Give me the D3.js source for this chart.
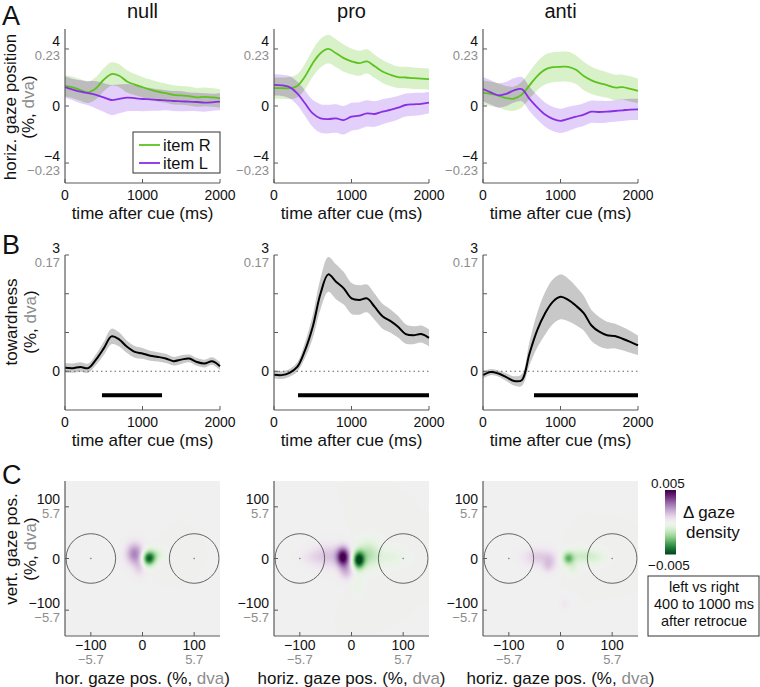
<!DOCTYPE html>
<html><head><meta charset="utf-8">
<script src="https://cdn.jsdelivr.net/npm/d3@7"></script>
<style>body{margin:0;background:#fff} text{font-family:"Liberation Sans",Arial,sans-serif;fill:#111}</style>
</head><body>
<svg id="c" width="760" height="687"></svg>
<script>
// ---------- DATA ----------
const conditions = ["null", "pro", "anti"];
const time = [0,100,200,300,400,500,600,700,800,900,1000,1100,1200,1300,1400,1500,1600,1700,1800,1900,2000];
const timeTicks = [0, 1000, 2000];

// Row A: horizontal gaze position (%), item R / item L, with SEM
const nullR    = [1.41,1.30,1.12,0.96,1.25,1.84,2.24,2.12,1.72,1.50,1.32,1.15,1.00,0.90,0.78,0.74,0.70,0.60,0.64,0.60,0.54];
const nullRsem = [0.75,0.75,0.75,0.75,0.78,0.80,0.82,0.80,0.78,0.75,0.72,0.70,0.70,0.68,0.68,0.66,0.66,0.65,0.65,0.65,0.65];
const nullL    = [1.32,1.15,1.00,0.90,0.78,0.60,0.42,0.50,0.59,0.55,0.49,0.47,0.42,0.40,0.35,0.33,0.30,0.28,0.24,0.26,0.30];
const nullLsem = [0.75,0.75,0.80,0.85,0.95,1.00,1.05,1.00,0.95,0.90,0.85,0.80,0.75,0.70,0.70,0.70,0.65,0.65,0.65,0.60,0.60];
const proR     = [1.25,1.25,1.25,1.41,2.07,3.00,3.70,4.00,3.70,3.36,3.13,3.00,3.13,2.78,2.42,2.19,2.02,2.00,1.95,1.92,1.88];
const proRsem  = [0.75,0.75,0.78,0.82,0.90,0.95,1.00,1.00,0.98,0.95,0.90,0.88,0.85,0.82,0.80,0.78,0.75,0.75,0.75,0.75,0.75];
const proL     = [1.48,1.45,1.32,0.89,0.19,-0.52,-0.87,-0.92,-0.87,-0.99,-0.75,-0.68,-0.52,-0.56,-0.40,-0.28,-0.12,0.07,0.12,0.15,0.24];
const proLsem  = [0.75,0.75,0.78,0.82,0.90,0.95,1.00,1.00,1.00,1.00,0.98,0.95,0.92,0.90,0.88,0.85,0.82,0.80,0.80,0.78,0.75];
const antiR    = [0.94,0.85,0.72,0.55,0.52,0.80,1.45,2.10,2.55,2.72,2.75,2.75,2.54,2.10,1.80,1.60,1.47,1.30,1.32,1.20,1.06];
const antiRsem = [0.85,0.85,0.85,0.85,0.85,0.90,0.95,1.00,1.05,1.05,1.05,1.05,1.00,1.00,0.95,0.92,0.90,0.90,0.88,0.88,0.85];
const antiL    = [1.18,0.96,0.75,0.85,1.10,1.18,0.50,-0.10,-0.60,-0.90,-1.04,-0.90,-0.75,-0.60,-0.40,-0.42,-0.40,-0.35,-0.30,-0.25,-0.24];
const antiLsem = [0.85,0.85,0.85,0.85,0.85,0.85,0.85,0.85,0.85,0.85,0.85,0.85,0.80,0.80,0.78,0.78,0.75,0.75,0.75,0.75,0.75];
const posTicks = [-4, 0, 4];
const posTickDva = ["−0.23", "", "0.23"];
const legendLabels = ["item R", "item L"];

// Row B: towardness (%), with SEM, and significant clusters (ms)
const nullTow    = [0.09,0.08,0.11,0.08,0.30,0.59,0.90,0.82,0.63,0.50,0.46,0.40,0.37,0.33,0.26,0.30,0.33,0.24,0.20,0.26,0.13];
const nullTowSem = [0.12,0.12,0.12,0.12,0.14,0.17,0.20,0.18,0.16,0.15,0.14,0.13,0.12,0.12,0.11,0.11,0.10,0.10,0.10,0.10,0.10];
const proTow     = [-0.09,-0.10,-0.04,0.11,0.54,1.15,2.00,2.50,2.31,2.14,1.88,1.84,1.88,1.66,1.42,1.30,1.15,0.96,0.93,0.96,0.86];
const proTowSem  = [0.10,0.10,0.10,0.12,0.20,0.30,0.40,0.45,0.45,0.42,0.40,0.38,0.36,0.34,0.32,0.30,0.28,0.25,0.23,0.22,0.22];
const antiTow    = [-0.10,-0.02,-0.06,-0.15,-0.25,-0.23,0.46,1.06,1.49,1.79,1.92,1.84,1.69,1.50,1.18,1.02,0.93,0.91,0.84,0.76,0.67];
const antiTowSem = [0.08,0.08,0.08,0.10,0.12,0.15,0.30,0.45,0.55,0.58,0.58,0.55,0.50,0.45,0.40,0.38,0.35,0.32,0.30,0.28,0.25];
const sigClusters = [[477, 1252], [310, 2000], [658, 2000]];
const towTicks = [0, 1, 2, 3];

// Row C: gaze density difference blobs [x %, y %, sdX, sdY, amplitude]
const densNull = [[-15,9,12,15,0.0026],[-6,-18,8,12,0.0009],[12,0,9,10,-0.0044],[26,8,12,9,-0.0009]];
const densPro  = [[-16,3,9,13,0.0048],[-45,5,22,16,0.0013],[-80,2,15,10,0.0004],[-10,-25,10,12,0.0014],
                  [14,-3,8,12,-0.0050],[33,8,15,18,-0.0016],[75,3,20,12,-0.0006],[12,-50,8,14,-0.0004]];
const densAnti = [[-45,3,20,12,0.0011],[-20,-5,10,12,0.0009],[-25,-18,8,8,0.0006],[8,-88,6,8,0.0004],
                  [15,0,8,9,-0.0026],[40,5,18,10,-0.0011],[70,3,15,10,-0.0006],[25,-20,8,10,-0.0006]];
const gazeTicks = [-100, 0, 100];
const gazeTickDva = ["−5.7", "", "5.7"];
const itemCentres = [-100, 100];
const itemRadius = 48;
const densityRange = [-0.005, 0.005];
const boxLines = ["left vs right", "400 to 1000 ms", "after retrocue"];

// ---------- LAYOUT ----------
const svg = d3.select("#c");
const lefts = [65, 274, 483], W = 155;
const axisColor = "#5a5a5a", dvaColor = "#8c8c8c";
const greenLine = "#5cc21e", purpleLine = "#8a2ee6";
const greenBand = "#d8f1c8", purpleBand = "#e2d0fa", overlapBand = "#bcbcbc";
const fmt = v => v < 0 ? "−" + Math.abs(v) : String(v);
const labelSize = 17, tickSize = 14, dvaSize = 13;

const posData = [[nullR,nullRsem,nullL,nullLsem],[proR,proRsem,proL,proLsem],[antiR,antiRsem,antiL,antiLsem]];
const towData = [[nullTow,nullTowSem],[proTow,proTowSem],[antiTow,antiTowSem]];
const densData = [densNull, densPro, densAnti];

function yLabel(x, y, main) {
  const g = svg.append("g");
  g.append("text").attr("transform", `translate(${x},${y}) rotate(-90)`).attr("text-anchor","middle")
    .attr("font-size", labelSize).text(main);
  const t = g.append("text").attr("transform", `translate(${x+18.5},${y}) rotate(-90)`).attr("text-anchor","middle")
    .attr("font-size", labelSize);
  t.append("tspan").text("(%, ");
  t.append("tspan").style("fill", dvaColor).text("dva");
  t.append("tspan").text(")");
}
function drawAxes(g, x, y, xt, yt) {
  const [x0,x1] = x.range(), [y0,y1] = y.range();
  g.append("line").attr("x1",x0).attr("x2",x0).attr("y1",y0).attr("y2",y1).attr("stroke",axisColor).attr("stroke-width",1.2);
  g.append("line").attr("x1",x0).attr("x2",x1).attr("y1",y0).attr("y2",y0).attr("stroke",axisColor).attr("stroke-width",1.2);
  g.selectAll(null).data(xt).join("line").attr("x1",d=>x(d)).attr("x2",d=>x(d)).attr("y1",y0).attr("y2",y0-4).attr("stroke",axisColor);
  g.selectAll(null).data(yt).join("line").attr("y1",d=>y(d)).attr("y2",d=>y(d)).attr("x1",x0).attr("x2",x0+4).attr("stroke",axisColor);
}
function yTickLabels(g, x0, y, ticks, dva) {
  ticks.forEach((v, i) => {
    if (dva[i] === "") {
      g.append("text").attr("x", x0-5).attr("y", y(v)+5).attr("text-anchor","end").attr("font-size",tickSize).text(fmt(v));
    } else {
      g.append("text").attr("x", x0-5).attr("y", y(v)-2.5).attr("text-anchor","end").attr("font-size",tickSize).text(fmt(v));
      g.append("text").attr("x", x0-5).attr("y", y(v)+11.5).attr("text-anchor","end").attr("font-size",dvaSize).style("fill",dvaColor).text(dva[i]);
    }
  });
}

// panel letters
[["A",24.5],["B",254],["C",484]].forEach(([l,yb]) =>
  svg.append("text").attr("x",2).attr("y",yb).attr("font-size",27).text(l));

// ---------- ROW A ----------
const yA = d3.scaleLinear().domain([-5.4, 5.4]).range([183, 29]);
yLabel(15.5, 107, "horiz. gaze position");
conditions.forEach((c, i) => {
  const L = lefts[i];
  const x = d3.scaleLinear().domain([0, 2000]).range([L, L+W]);
  const g = svg.append("g");
  const [R, Rs, Lm, Ls] = posData[i];
  const curve = d3.curveCatmullRom.alpha(0.5);
  const band = (m, s) => d3.area().curve(curve).x((d,j)=>x(time[j])).y0((d,j)=>yA(m[j]-s[j])).y1((d,j)=>yA(m[j]+s[j]))(time);
  const line = m => d3.line().curve(curve).x((d,j)=>x(time[j])).y((d,j)=>yA(m[j]))(time);
  const cid = "clipG" + i;
  svg.append("clipPath").attr("id", cid).append("path").attr("d", band(R, Rs));
  g.append("path").attr("d", band(R, Rs)).attr("fill", greenBand);
  g.append("path").attr("d", band(Lm, Ls)).attr("fill", purpleBand);
  g.append("path").attr("d", band(Lm, Ls)).attr("fill", overlapBand).attr("clip-path", `url(#${cid})`);
  g.append("path").attr("d", line(R)).attr("fill","none").attr("stroke", greenLine).attr("stroke-width", 1.8);
  g.append("path").attr("d", line(Lm)).attr("fill","none").attr("stroke", purpleLine).attr("stroke-width", 1.8);
  drawAxes(g, x, yA, timeTicks, posTicks);
  yTickLabels(g, L, yA, posTicks, posTickDva);
  timeTicks.forEach(v => g.append("text").attr("x", x(v)).attr("y", 200).attr("text-anchor","middle").attr("font-size",tickSize).text(v));
  g.append("text").attr("x", L+W/2).attr("y", 219).attr("text-anchor","middle").attr("font-size",labelSize).text("time after cue (ms)");
  g.append("text").attr("x", L+W/2).attr("y", 18).attr("text-anchor","middle").attr("font-size",20).text(c);
  if (i === 0) {
    const lg = g.append("g");
    lg.append("rect").attr("x",133).attr("y",132).attr("width",87).attr("height",41).attr("fill","#fff").attr("stroke","#333");
    [greenLine, purpleLine].forEach((col, k) => {
      lg.append("line").attr("x1",139).attr("x2",160).attr("y1",145+k*18).attr("y2",145+k*18).attr("stroke",col).attr("stroke-width",1.8);
      lg.append("text").attr("x",163).attr("y",151+k*18).attr("font-size",16.5).text(legendLabels[k]);
    });
  }
});

// ---------- ROW B ----------
const yB = d3.scaleLinear().domain([-1, 3]).range([410, 255]);
yLabel(17, 322, "towardness");
conditions.forEach((c, i) => {
  const L = lefts[i];
  const x = d3.scaleLinear().domain([0, 2000]).range([L, L+W]);
  const g = svg.append("g");
  const [m, s] = towData[i];
  const curve = d3.curveCatmullRom.alpha(0.5);
  g.append("path").attr("d", d3.area().curve(curve).x((d,j)=>x(time[j])).y0((d,j)=>yB(m[j]-s[j])).y1((d,j)=>yB(m[j]+s[j]))(time))
    .attr("fill", "#c8c8c8");
  g.append("line").attr("x1", x(0)).attr("x2", x(2000)).attr("y1", yB(0)).attr("y2", yB(0))
    .attr("stroke", "#666").attr("stroke-dasharray", "1.5,3");
  g.append("path").attr("d", d3.line().curve(curve).x((d,j)=>x(time[j])).y((d,j)=>yB(m[j]))(time))
    .attr("fill","none").attr("stroke","#000").attr("stroke-width",2);
  g.append("line").attr("x1", x(sigClusters[i][0])).attr("x2", x(sigClusters[i][1])).attr("y1", yB(-0.62)).attr("y2", yB(-0.62))
    .attr("stroke","#000").attr("stroke-width",4);
  drawAxes(g, x, yB, timeTicks, towTicks);
  yTickLabels(g, L, yB, [0, 3], ["", "0.17"]);
  timeTicks.forEach(v => g.append("text").attr("x", x(v)).attr("y", 427).attr("text-anchor","middle").attr("font-size",tickSize).text(v));
  g.append("text").attr("x", L+W/2).attr("y", 446).attr("text-anchor","middle").attr("font-size",labelSize).text("time after cue (ms)");
});

// ---------- ROW C ----------
const color = d3.scaleDiverging([densityRange[1], 0, densityRange[0]], d3.interpolatePRGn).clamp(true);
yLabel(17, 549, "vert. gaze pos.");
conditions.forEach((c, i) => {
  const L = lefts[i];
  const x = d3.scaleLinear().domain([-150, 150]).range([L, L+W]);
  const y = d3.scaleLinear().domain([-150, 150]).range([636, 481]);
  const g = svg.append("g");
  const blobs = densData[i];
  const cv = document.createElement("canvas"); cv.width = W; cv.height = W;
  const ctx = cv.getContext("2d"); const img = ctx.createImageData(W, W);
  for (let py = 0; py < W; py++) for (let px = 0; px < W; px++) {
    const dx = x.invert(L + px + 0.5), dy = y.invert(481 + py + 0.5);
    let v = 0;
    for (const [cx, cy, sx, sy, a] of blobs) v += a * Math.exp(-((dx-cx)**2/(2*sx*sx) + (dy-cy)**2/(2*sy*sy)));
    const col = d3.rgb(color(v)); const k = 4*(py*W+px);
    img.data[k]=col.r; img.data[k+1]=col.g; img.data[k+2]=col.b; img.data[k+3]=255;
  }
  ctx.putImageData(img, 0, 0);
  g.append("image").attr("x", L).attr("y", 481).attr("width", W).attr("height", W).attr("href", cv.toDataURL());
  itemCentres.forEach(cx => {
    g.append("circle").attr("cx", x(cx)).attr("cy", y(0)).attr("r", x(itemRadius)-x(0)).attr("fill","none").attr("stroke","#555").attr("stroke-width",0.9);
    g.append("circle").attr("cx", x(cx)).attr("cy", y(0)).attr("r", 0.8).attr("fill","#777");
  });
  drawAxes(g, x, y, gazeTicks, gazeTicks);
  yTickLabels(g, L, y, gazeTicks, gazeTickDva);
  gazeTicks.forEach((v, k) => {
    g.append("text").attr("x", x(v)).attr("y", 650).attr("text-anchor","middle").attr("font-size",tickSize).text(fmt(v));
    if (gazeTickDva[k]) g.append("text").attr("x", x(v)).attr("y", 664).attr("text-anchor","middle").attr("font-size",dvaSize).style("fill",dvaColor).text(gazeTickDva[k]);
  });
  const t = g.append("text").attr("x", L+W/2).attr("y", 683.5).attr("text-anchor","middle").attr("font-size",labelSize);
  t.append("tspan").text(i === 0 ? "hor. gaze pos. (%, " : "horiz. gaze pos. (%, ");
  t.append("tspan").style("fill", dvaColor).text("dva");
  t.append("tspan").text(")");
});

// colorbar
const cb = d3.scaleLinear().domain(densityRange).range([554, 490]);
const dv = (densityRange[1]-densityRange[0])/64;
const steps = d3.range(64).map(k => densityRange[0] + (k+0.5)*dv);
svg.append("g").selectAll("rect").data(steps).join("rect")
  .attr("x", 665).attr("width", 11).attr("y", d => cb(d + dv/2)).attr("height", d => cb(d - dv/2) - cb(d + dv/2) + 0.5)
  .attr("fill", d => color(d));
svg.append("text").attr("x", 668).attr("y", 487.5).attr("text-anchor","middle").attr("font-size",13.5).text(String(densityRange[1]));
svg.append("text").attr("x", 648).attr("y", 569.5).attr("font-size",13.5).text("−" + Math.abs(densityRange[0]));
svg.append("text").attr("x", 683).attr("y", 518).attr("font-size",17).text("Δ gaze");
svg.append("text").attr("x", 686).attr("y", 537.5).attr("font-size",17).text("density");
svg.append("rect").attr("x", 648).attr("y", 576).attr("width", 111).attr("height", 60).attr("fill","#fff").attr("stroke","#333");
boxLines.forEach((s, k) => svg.append("text").attr("x", 704).attr("y", 592 + k*17).attr("text-anchor","middle").attr("font-size",14.5).text(s));
</script>
</body></html>
